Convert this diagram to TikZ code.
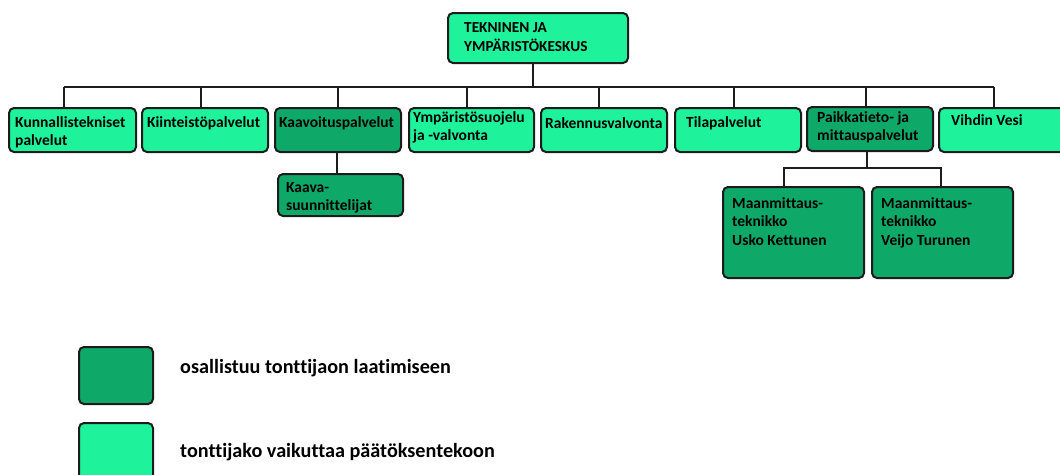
\documentclass[tikz,border=0pt]{standalone}
\usepackage{fontspec}
\setmainfont{Carlito}[Ligatures=NoCommon]
\definecolor{lg}{RGB}{30,242,154}
\definecolor{dg}{RGB}{14,168,104}
\definecolor{bd}{RGB}{28,28,28}
\begin{document}
\begin{tikzpicture}[x=1pt,y=-1pt,
  box/.style={draw=bd, line width=2pt, rounded corners=5pt, anchor=north west, inner sep=0pt, outer sep=0pt},
  light/.style={box, fill=lg},
  dark/.style={box, fill=dg},
  txt/.style={anchor=north west, inner sep=0pt, align=left, text=black, font=\bfseries\fontsize{15.5}{18.5}\selectfont},
  toptxt/.style={txt, font=\bfseries\fontsize{15.3}{19}\selectfont},
  leg/.style={anchor=base west, inner sep=0pt, text=black, font=\bfseries\fontsize{20.2}{24}\selectfont},
  conn/.style={draw=bd, line width=2pt}]
\fill[white] (0,0) rectangle (1060,474);
\useasboundingbox (0,0) rectangle (1060,474);

% boxes
\node[light, minimum width=180pt, minimum height=50pt] (top) at (448,13) {};
\node[light, minimum width=127pt, minimum height=44pt] (k1) at (9,108) {};
\node[light, minimum width=126pt, minimum height=44pt] (k2) at (142,108) {};
\node[dark,  minimum width=126pt, minimum height=44pt] (k3) at (275,108) {};
\node[light, minimum width=125pt, minimum height=44pt] (k4) at (409,108) {};
\node[light, minimum width=126pt, minimum height=44pt] (k5) at (541,108) {};
\node[light, minimum width=126pt, minimum height=44pt] (k6) at (675,108) {};
\node[dark,  minimum width=126pt, minimum height=44pt] (k7) at (807,107) {};
\node[light, minimum width=126pt, minimum height=44pt] (k8) at (939,108) {};
\node[dark,  minimum width=125pt, minimum height=42pt] (s1) at (278,174) {};
\node[dark,  minimum width=141pt, minimum height=91pt] (m1) at (723,187) {};
\node[dark,  minimum width=141pt, minimum height=91pt] (m2) at (872,187) {};
\node[dark,  minimum width=74pt, minimum height=57pt] (l1) at (79,347) {};
\node[light, minimum width=74pt, minimum height=57pt] (l2) at (79,423) {};

% texts
\node[toptxt] (ttop) at (464,19.05) {\strut TEKNINEN JA\\YMPÄRISTÖKESKUS};
\node[txt] (tk1) at (15,114.05) {\strut Kunnallistekniset\\palvelut};
\node[txt] (tk2) at (147,114.05) {\strut Kiinteistöpalvelut};
\node[txt] (tk3) at (279,114.05) {\strut Kaavoituspalvelut};
\node[txt] (tk4) at (413,109.05) {\strut Ympäristösuojelu\\ja -valvonta};
\node[txt] (tk5) at (545,115.05) {\strut Rakennusvalvonta};
\node[txt] (tk6) at (686,114.05) {\strut Tilapalvelut};
\node[txt] (tk7) at (817,109.05) {\strut Paikkatieto- ja\\mittauspalvelut};
\node[txt] (tk8) at (951,112.05) {\strut Vihdin Vesi};
\node[txt] (ts1) at (286,179.05) {\strut Kaava-\\suunnittelijat};
\node[txt] (tm1) at (732,195.05) {\strut Maanmittaus-\\teknikko\\Usko Kettunen};
\node[txt] (tm2) at (881,195.05) {\strut Maanmittaus-\\teknikko\\Veijo Turunen};
\node[leg] (tl1) at (180,373) {osallistuu tonttijaon laatimiseen};
\node[leg] (tl2) at (180,457) {tonttijako vaikuttaa päätöksentekoon};

% connectors
\coordinate (busL) at (64,87);
\coordinate (busR) at (994,87);
\draw[conn] (busL) -- (busR);
\draw[conn] ([xshift=-5pt]top.south) -- ([xshift=-5pt]top.south |- busL);
\draw[conn] ([xshift=-8.5pt]k1.north) -- ([xshift=-8.5pt]k1.north |- busL);
\draw[conn] ([xshift=-4pt]k2.north) -- ([xshift=-4pt]k2.north |- busL);
\draw[conn] (k3.north) -- (k3.north |- busL);
\draw[conn] ([xshift=-4.5pt]k4.north) -- ([xshift=-4.5pt]k4.north |- busL);
\draw[conn] ([xshift=-5pt]k5.north) -- ([xshift=-5pt]k5.north |- busL);
\draw[conn] ([xshift=-4pt]k6.north) -- ([xshift=-4pt]k6.north |- busL);
\draw[conn] ([xshift=-4pt]k7.north) -- ([xshift=-4pt]k7.north |- busL);
\draw[conn] ([xshift=-8pt]k8.north) -- ([xshift=-8pt]k8.north |- busL);
\draw[conn] ([xshift=-1pt]k3.south) -- ([xshift=-1pt]k3.south |- s1.north);
\coordinate (sub) at (867,168);
\draw[conn] ([xshift=-3pt]k7.south) -- (sub);
\draw[conn] ([xshift=-9.5pt]m1.north) -- ([xshift=-9.5pt]m1.north |- sub) -- ([xshift=-1.5pt]m2.north |- sub) -- ([xshift=-1.5pt]m2.north);
\end{tikzpicture}
\end{document}
